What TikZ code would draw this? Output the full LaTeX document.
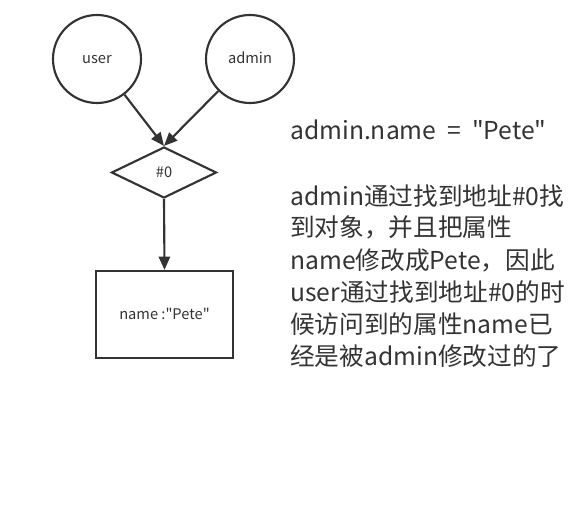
\documentclass[tikz,border=0pt]{standalone}
\usepackage{fontspec}
\setmainfont{Noto Sans CJK SC}[Ligatures=TeXOff]
\usetikzlibrary{arrows.meta,shapes.geometric}
\definecolor{ink}{HTML}{333333}
\tikzset{
  lbl/.style={text=ink,font=\fontsize{11pt}{13pt}\selectfont,text height=1.5ex,text depth=0.25ex},
  obj/.style={circle,draw=ink,line width=1.6pt,minimum size=66pt,inner sep=0pt,lbl},
  addr/.style={diamond,draw=ink,line width=1.6pt,minimum width=78.75pt,minimum height=38.25pt,inner sep=0pt,aspect=2,lbl},
  heap/.style={rectangle,draw=ink,line width=1.6pt,minimum width=102.75pt,minimum height=65.25pt,inner sep=0pt,lbl},
  ref/.style={draw=ink,line width=1.6pt,-{Triangle[length=10pt,width=8.5pt]}},
  note/.style={anchor=base west,inner sep=0pt,text=ink,font=\fontsize{18.5pt}{24pt}\selectfont}
}
\begin{document}
\begin{tikzpicture}[x=0.75pt,y=-0.75pt]
\useasboundingbox (0,0) rectangle (581,520);
\node[obj] (user) at (97,59) {user};
\node[obj] (admin) at (250,59) {admin};
\node[addr] (addr) at (164,172.5) {\#0};
\node[heap] (obj) at (164.5,314.5) {name :"Pete"};
\draw[ref] (user) -- (addr.north);
\draw[ref] (admin) -- (addr.north);
\draw[ref] (addr.south) -- (obj.north);
\node[note] (l0) at (290,140) {admin.name\ \ =\ \ "Pete"};
\node[note] (l1) at (290,205) {admin通过找到地址\#0找};
\node[note] (l2) at (290,237) {到对象，并且把属性};
\node[note] (l3) at (290,269) {name修改成Pete，因此};
\node[note] (l4) at (290,301) {user通过找到地址\#0的时};
\node[note] (l5) at (290,333) {候访问到的属性name已};
\node[note] (l6) at (290,365) {经是被admin修改过的了};
\end{tikzpicture}
\end{document}
